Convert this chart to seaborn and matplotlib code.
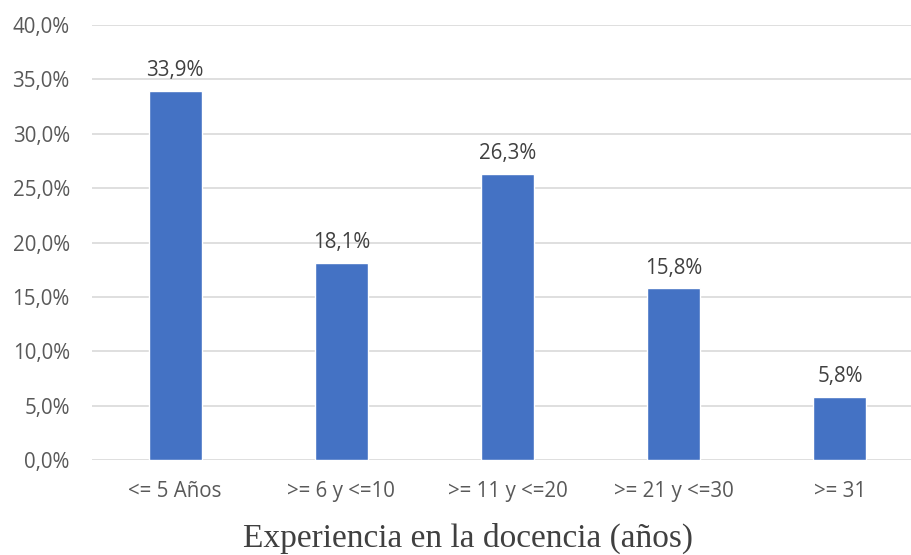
import matplotlib
matplotlib.use("Agg")
import matplotlib.pyplot as plt
import seaborn as sns
import pandas as pd

categorias = ["<= 5 Años", ">= 6 y <=10", ">= 11 y <=20", ">= 21 y <=30", ">= 31"]
porcentajes = [33.9, 18.1, 26.3, 15.8, 5.8]
y_ticks = [0, 5, 10, 15, 20, 25, 30, 35, 40]

df = pd.DataFrame({"cat": categorias, "pct": porcentajes})

sns.set_style("white")
plt.rcParams["font.family"] = ["Open Sans", "DejaVu Sans"]

fig = plt.figure(figsize=(9.11, 5.55), dpi=100)
ax = fig.add_axes([92 / 911, 94.7 / 555, (923 - 92) / 911, (530.3 - 94.7) / 555])

sns.barplot(data=df, x="cat", y="pct", color="#4472C4", width=0.32,
            saturation=1, ax=ax, zorder=3)

ax.set_ylim(0, 40)
ax.set_xlim(-0.5, 4.5)
ax.set_yticks(y_ticks)
ax.set_yticklabels([f"{v:.1f}%".replace(".", ",") for v in y_ticks])
ax.yaxis.grid(True, color="#D9D9D9", linewidth=1.2, zorder=0)
ax.set_axisbelow(True)
for s in ax.spines.values():
    s.set_visible(False)
ax.tick_params(axis="both", length=0, labelsize=14.8, labelcolor="#595959")
ax.tick_params(axis="y", pad=16)
ax.tick_params(axis="x", pad=15)
ax.set_xlabel("")
ax.set_ylabel("")

for i, v in enumerate(porcentajes):
    ax.annotate(f"{v:.1f}%".replace(".", ","), (i, v), xytext=(0, 7),
                textcoords="offset points", ha="center", va="bottom",
                fontsize=14.8, color="#404040")

fig.text(468 / 911, 1 - 538 / 555, "Experiencia en la docencia (años)",
         ha="center", va="center", fontsize=24, family="Liberation Serif",
         color="#404040")

fig.savefig("out.png", dpi=100)
